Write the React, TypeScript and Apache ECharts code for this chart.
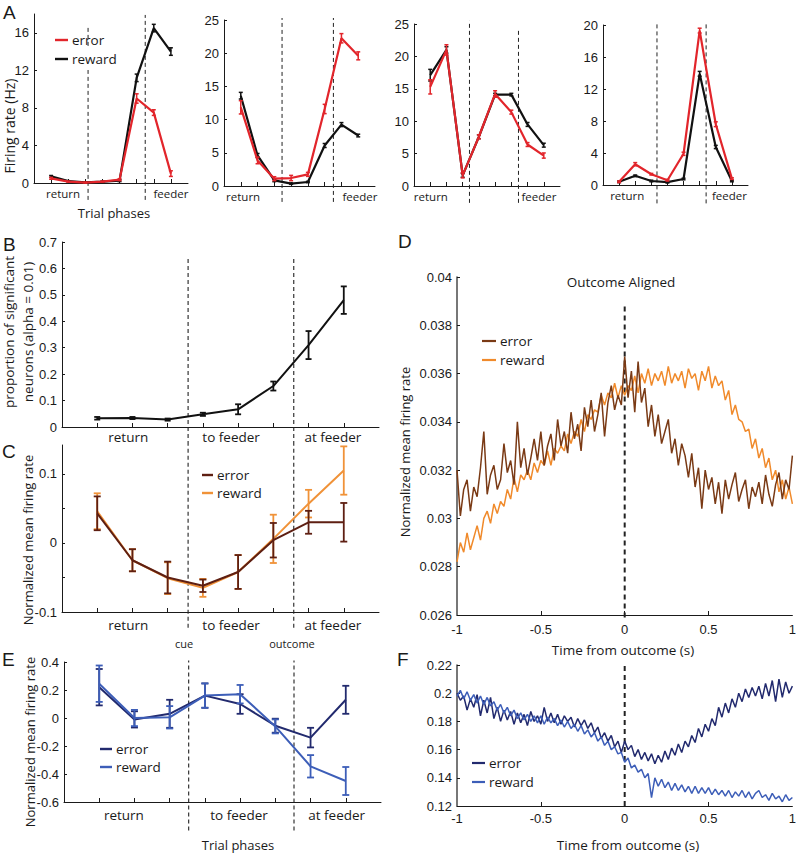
import React, { useEffect, useRef } from 'react';
import * as echarts from 'echarts';

// ======================= DATA =======================
// Trial-phase sample positions (8 bins) shared by panels A, B, C, E
const phasePositions = [0, 1, 2, 3, 4, 5, 6, 7];
const legendNames = ['error', 'reward'];
const aEndLabels = ['return', 'feeder'];
const phaseLabels = ['return', 'to feeder', 'at feeder'];
const eventLabels = ['cue', 'outcome'];

// Panel A — four example neurons (Hz)
const a1Error = [0.5, 0.15, 0.05, 0.15, 0.35, 9.0, 7.5, 1.0];
const a1Reward = [0.7, 0.2, 0.07, 0.15, 0.25, 11.2, 16.5, 14.0];
const a1ErrorSem = [0.1, 0.05, 0.05, 0.05, 0.1, 0.5, 0.3, 0.3];
const a1RewardSem = [0.1, 0.05, 0.05, 0.05, 0.1, 0.4, 0.4, 0.4];

const a2Error = [11.85, 3.85, 1.1, 1.2, 1.75, 11.6, 22.25, 19.6];
const a2Reward = [13.6, 4.6, 0.85, 0.35, 0.6, 6.1, 9.25, 7.6];
const a2ErrorSem = [1.0, 0.5, 0.3, 0.4, 0.3, 0.7, 0.7, 0.6];
const a2RewardSem = [0.5, 0.3, 0.2, 0.1, 0.1, 0.3, 0.3, 0.2];

const a3Error = [15.3, 21.0, 1.65, 7.6, 14.2, 11.4, 6.4, 4.7];
const a3Reward = [17.1, 21.0, 1.65, 7.6, 14.1, 14.1, 9.5, 6.3];
const a3ErrorSem = [1.1, 0.8, 0.4, 0.3, 0.5, 0.3, 0.3, 0.4];
const a3RewardSem = [0.9, 0.5, 0.3, 0.3, 0.2, 0.2, 0.3, 0.3];

const a4Error = [0.4, 2.6, 1.35, 0.6, 3.9, 19.3, 7.6, 0.8];
const a4Reward = [0.4, 1.15, 0.5, 0.35, 0.75, 13.9, 4.75, 0.5];
const a4ErrorSem = [0.1, 0.2, 0.1, 0.1, 0.2, 0.3, 0.3, 0.1];
const a4RewardSem = [0.1, 0.1, 0.1, 0.1, 0.1, 0.3, 0.2, 0.1];

// Panel B — proportion of significant neurons
const bValues = [0.033, 0.034, 0.028, 0.048, 0.067, 0.155, 0.31, 0.48];
const bSem = [0.005, 0.004, 0.004, 0.006, 0.019, 0.017, 0.053, 0.052];

// Panel C — normalized mean firing rate (population 1)
const cError = [0.043, -0.025, -0.05, -0.062, -0.042, 0.004, 0.03, 0.03];
const cErrorSem = [0.0245, 0.016, 0.023, 0.009, 0.0245, 0.025, 0.0166, 0.028];
const cReward = [0.046, -0.025, -0.051, -0.065, -0.042, 0.006, 0.057, 0.105];
const cRewardSem = [0.026, 0.016, 0.023, 0.013, 0.0245, 0.035, 0.02, 0.035];

// Panel E — normalized mean firing rate (population 2)
const eError = [0.22, -0.01, 0.03, 0.16, 0.1, -0.055, -0.14, 0.13];
const eErrorSem = [0.13, 0.058, 0.1, 0.087, 0.07, 0.05, 0.07, 0.1];
const eReward = [0.245, 0.0, 0.005, 0.16, 0.17, -0.06, -0.345, -0.45];
const eRewardSem = [0.13, 0.058, 0.08, 0.087, 0.066, 0.05, 0.08, 0.1];

// Panels D / F — outcome-aligned traces, sampled every 20 ms from -1 s to 1 s
const timeGrid = Array.from({ length: 101 }, (_, i) => Math.round((-1 + i * 0.02) * 100) / 100);

const dError = [
  0.0320, 0.0301, 0.0312, 0.0316, 0.0303, 0.0313, 0.0309, 0.0321, 0.0336, 0.0310,
  0.0318, 0.0322, 0.0312, 0.0316, 0.0331, 0.0319, 0.0324, 0.0314, 0.0340, 0.0321,
  0.0329, 0.0318, 0.0325, 0.0333, 0.0324, 0.0336, 0.0322, 0.0330, 0.0335, 0.0324,
  0.0341, 0.0330, 0.0336, 0.0327, 0.0344, 0.0333, 0.0339, 0.0328, 0.0346, 0.0338,
  0.0349, 0.0336, 0.0343, 0.0352, 0.0334, 0.0348, 0.0355, 0.0345, 0.0351, 0.0347,
  0.0367, 0.0350, 0.0361, 0.0344, 0.0365, 0.0348, 0.0354, 0.0338, 0.0347, 0.0334,
  0.0343, 0.0331, 0.0336, 0.0341, 0.0327, 0.0333, 0.0322, 0.0331, 0.0326, 0.0317,
  0.0327, 0.0313, 0.0321, 0.0304, 0.0320, 0.0312, 0.0317, 0.0306, 0.0315, 0.0302,
  0.0316, 0.0308, 0.0314, 0.0319, 0.0307, 0.0312, 0.0316, 0.0304, 0.0313, 0.0309,
  0.0315, 0.0306, 0.0318, 0.0310, 0.0305, 0.0314, 0.0319, 0.0308, 0.0316, 0.0312,
  0.0326,
];
const dReward = [
  0.0282, 0.0290, 0.0286, 0.0294, 0.0287, 0.0292, 0.0297, 0.0291, 0.0300, 0.0303,
  0.0298, 0.0306, 0.0302, 0.0307, 0.0305, 0.0312, 0.0308, 0.0317, 0.0311, 0.0318,
  0.0316, 0.0320, 0.0316, 0.0323, 0.0319, 0.0324, 0.0322, 0.0328, 0.0322, 0.0329,
  0.0327, 0.0330, 0.0328, 0.0335, 0.0331, 0.0336, 0.0334, 0.0341, 0.0336, 0.0343,
  0.0341, 0.0345, 0.0344, 0.0351, 0.0347, 0.0352, 0.0350, 0.0356, 0.0350, 0.0355,
  0.0351, 0.0355, 0.0353, 0.0359, 0.0352, 0.0360, 0.0356, 0.0362, 0.0355, 0.0360,
  0.0357, 0.0361, 0.0355, 0.0363, 0.0356, 0.0360, 0.0357, 0.0361, 0.0354, 0.0362,
  0.0358, 0.0360, 0.0353, 0.0361, 0.0357, 0.0363, 0.0354, 0.0359, 0.0355, 0.0357,
  0.0349, 0.0353, 0.0343, 0.0347, 0.0341, 0.0340, 0.0336, 0.0337, 0.0329, 0.0333,
  0.0325, 0.0329, 0.0321, 0.0325, 0.0316, 0.0320, 0.0311, 0.0316, 0.0308, 0.0313,
  0.0306,
];
const fError = [
  0.200, 0.195, 0.198, 0.188, 0.196, 0.190, 0.199, 0.184, 0.195, 0.186,
  0.197, 0.182, 0.190, 0.180, 0.188, 0.181, 0.187, 0.178, 0.186, 0.179,
  0.185, 0.177, 0.187, 0.180, 0.184, 0.178, 0.190, 0.180, 0.186, 0.179,
  0.185, 0.178, 0.184, 0.180, 0.183, 0.176, 0.182, 0.177, 0.181, 0.175,
  0.179, 0.172, 0.176, 0.168, 0.172, 0.166, 0.170, 0.162, 0.166, 0.158,
  0.166, 0.160, 0.163, 0.155, 0.160, 0.153, 0.158, 0.152, 0.157, 0.150,
  0.156, 0.151, 0.159, 0.153, 0.161, 0.156, 0.164, 0.158, 0.166, 0.162,
  0.170, 0.165, 0.175, 0.169, 0.178, 0.173, 0.182, 0.177, 0.190, 0.183,
  0.193, 0.186, 0.196, 0.190, 0.200, 0.194, 0.203, 0.197, 0.204, 0.198,
  0.205, 0.196, 0.207, 0.198, 0.209, 0.194, 0.210, 0.197, 0.208, 0.200,
  0.205,
];
const fReward = [
  0.198, 0.202, 0.196, 0.201, 0.195, 0.199, 0.193, 0.198, 0.192, 0.197,
  0.191, 0.194, 0.188, 0.192, 0.186, 0.190, 0.184, 0.188, 0.182, 0.186,
  0.181, 0.185, 0.180, 0.184, 0.179, 0.184, 0.178, 0.183, 0.179, 0.182,
  0.177, 0.181, 0.176, 0.180, 0.175, 0.178, 0.173, 0.177, 0.171, 0.174,
  0.169, 0.172, 0.166, 0.169, 0.163, 0.166, 0.160, 0.162, 0.157, 0.158,
  0.151, 0.154, 0.147, 0.149, 0.144, 0.146, 0.140, 0.143, 0.126, 0.140,
  0.134, 0.139, 0.133, 0.137, 0.131, 0.136, 0.131, 0.135, 0.130, 0.134,
  0.129, 0.134, 0.129, 0.133, 0.129, 0.133, 0.128, 0.132, 0.128, 0.131,
  0.127, 0.131, 0.126, 0.130, 0.127, 0.131, 0.126, 0.130, 0.125, 0.129,
  0.131, 0.126, 0.128, 0.124, 0.129, 0.125, 0.127, 0.123, 0.128, 0.124,
  0.126,
];

// Tick values
const aTicks4 = [0, 4, 8, 12, 16];
const aTicks5 = [0, 5, 10, 15, 20, 25];
const aTicks4to20 = [0, 4, 8, 12, 16, 20];
const bTicks = [0, 0.1, 0.2, 0.3, 0.4, 0.5, 0.6, 0.7];
const cTicks = [-0.1, -0.05, 0, 0.05, 0.1];
const cTickLabels = [-0.1, 0, 0.1];
const dTicks = [0.026, 0.028, 0.03, 0.032, 0.034, 0.036, 0.038, 0.04];
const eTicks = [-0.6, -0.4, -0.2, 0, 0.2, 0.4];
const fTicks = [0.12, 0.14, 0.16, 0.18, 0.2, 0.22];
const timeTicks = [-1, -0.5, 0, 0.5, 1];
const timeInnerTicks = [-0.5, 0, 0.5];

// ======================= STYLE / LAYOUT =======================
const NUM_FONT = '"Liberation Sans", Arial, sans-serif';
const WORD_FONT = '"Open Sans", "Noto Sans", sans-serif';
const INK = '#1a1a1a';
const RED = '#e2252b';
const BLACK = '#111111';
const BROWN_DARK = '#5e1f12';
const ORANGE = '#f09238';
const D_BROWN = '#7a3a15';
const D_ORANGE = '#f08a2b';
const NAVY = '#222a6e';
const BLUE = '#3d5eb8';

const near = (a: number, b: number) => Math.abs(a - b) < 1e-6;
const lookup = (vals: number[], labels: string[]) => (v: number) => {
  const i = vals.findIndex((p) => near(p, v));
  return i >= 0 ? labels[i] : '';
};

function xCatAxis(gi: number, labelPos: number[], labels: string[], margin: number, fontSize: number) {
  return {
    type: 'value', gridIndex: gi, min: -1, max: 8,
    axisLine: { show: true, onZero: false, lineStyle: { color: INK, width: 1 } },
    axisTick: { show: true, inside: true, length: 4, customValues: phasePositions, lineStyle: { color: INK } },
    axisLabel: {
      show: true, customValues: labelPos, formatter: lookup(labelPos, labels), margin,
      fontSize, fontFamily: WORD_FONT, color: INK,
    },
    splitLine: { show: false },
  };
}

function yNumAxis(gi: number, min: number, max: number, ticks: number[], labelVals: number[], fontSize = 13, lineColor = INK, lineWidth = 1) {
  return {
    type: 'value', gridIndex: gi, min, max,
    axisLine: { show: true, onZero: false, lineStyle: { color: lineColor, width: lineWidth } },
    axisTick: { show: true, inside: true, length: 3, customValues: ticks, lineStyle: { color: INK } },
    axisLabel: {
      show: true, customValues: labelVals, formatter: (v: number) => String(v), margin: 5,
      fontSize, fontFamily: NUM_FONT, color: INK,
    },
    splitLine: { show: false },
  };
}

function lineSeries(name: string, gi: number, xs: number[], ys: number[], color: string, width: number, z = 3) {
  return {
    type: 'line', name, xAxisIndex: gi, yAxisIndex: gi, data: xs.map((x, i) => [x, ys[i]]),
    symbol: 'none', silent: true, z, lineStyle: { color, width }, itemStyle: { color },
  };
}

function errorBars(gi: number, xs: number[], ys: number[], errs: number[], color: string, cap: number, width: number, z = 4) {
  return {
    type: 'custom', xAxisIndex: gi, yAxisIndex: gi, silent: true, z,
    data: xs.map((x, i) => [x, ys[i] - errs[i], ys[i] + errs[i]]),
    encode: { x: 0, y: [1, 2] },
    renderItem: (_p: any, api: any) => {
      const x = api.value(0), lo = api.value(1), hi = api.value(2);
      const p1 = api.coord([x, lo]);
      const p2 = api.coord([x, hi]);
      const style = { stroke: color, lineWidth: width };
      return {
        type: 'group',
        children: [
          { type: 'line', shape: { x1: p1[0], y1: p1[1], x2: p2[0], y2: p2[1] }, style },
          { type: 'line', shape: { x1: p1[0] - cap, y1: p1[1], x2: p1[0] + cap, y2: p1[1] }, style },
          { type: 'line', shape: { x1: p2[0] - cap, y1: p2[1], x2: p2[0] + cap, y2: p2[1] }, style },
        ],
      };
    },
  };
}

function divider(gi: number, x: number, y0: number, y1: number, width = 1.1, dash: any = [4, 3]) {
  return {
    type: 'line', xAxisIndex: gi, yAxisIndex: gi, data: [[x, y0], [x, y1]], symbol: 'none',
    clip: false, silent: true, z: 1, lineStyle: { color: '#222', width, type: dash },
  };
}

function text(x: number, y: number, t: string, size: number, family = WORD_FONT, rotate = false, align = 'center') {
  return {
    type: 'text', x, y, z: 100, rotation: rotate ? Math.PI / 2 : 0,
    style: { text: t, fontSize: size, fontFamily: family, fill: INK, textAlign: align, textVerticalAlign: 'middle' },
  };
}

function legend(x: number, y: number, dy: number, colors: string[], size: number, lineLen: number, lineW: number) {
  const out: any[] = [];
  legendNames.forEach((n, i) => {
    const yy = y + i * dy;
    out.push({ type: 'line', z: 100, shape: { x1: x, y1: yy, x2: x + lineLen, y2: yy }, style: { stroke: colors[i], lineWidth: lineW } });
    out.push(text(x + lineLen + 4, yy, n, size, WORD_FONT, false, 'left'));
  });
  return out;
}

const panelsA = [
  { grid: { left: 34, top: 14, width: 154, height: 169 }, yMax: 18, ticks: aTicks4,
    err: a1Error, rew: a1Reward, errSem: a1ErrorSem, rewSem: a1RewardSem,
    dividers: [[2.16, 16.8], [5.5, 17.9]], divBottom: -1.8, endPos: [0.7, 7.0] },
  { grid: { left: 224, top: 20, width: 151, height: 166 }, yMax: 25, ticks: aTicks5,
    err: a2Error, rew: a2Reward, errSem: a2ErrorSem, rewSem: a2RewardSem,
    dividers: [[2.46, 25.3], [5.52, 25.3]], divBottom: -2.4, endPos: [0.14, 7.1] },
  { grid: { left: 414, top: 24, width: 146, height: 162 }, yMax: 25, ticks: aTicks5,
    err: a3Error, rew: a3Reward, errSem: a3ErrorSem, rewSem: a3RewardSem,
    dividers: [[2.42, 25.5], [5.44, 24.2]], divBottom: -2.6, endPos: [0.04, 6.7] },
  { grid: { left: 603, top: 25, width: 145, height: 160 }, yMax: 20, ticks: aTicks4to20,
    err: a4Error, rew: a4Reward, errSem: a4ErrorSem, rewSem: a4RewardSem,
    dividers: [[2.35, 20.3], [5.4, 20.4]], divBottom: -2.3, endPos: [0.5, 6.85] },
];

function buildOption() {
  const grid: any[] = [];
  const xAxis: any[] = [];
  const yAxis: any[] = [];
  const series: any[] = [];
  const graphic: any[] = [];

  // ---------- Panel A ----------
  panelsA.forEach((p, gi) => {
    grid.push({ ...p.grid, containLabel: false });
    xAxis.push(xCatAxis(gi, p.endPos, aEndLabels, 4, 11.5));
    yAxis.push(yNumAxis(gi, 0, p.yMax, p.ticks, p.ticks, 13));
    p.dividers.forEach(([x, top]) => series.push(divider(gi, x, p.divBottom, top, 1)));
    series.push(lineSeries('reward', gi, phasePositions, p.rew, BLACK, 2.2));
    series.push(errorBars(gi, phasePositions, p.rew, p.rewSem, BLACK, 2, 1.5));
    series.push(lineSeries('error', gi, phasePositions, p.err, RED, 2.2, 5));
    series.push(errorBars(gi, phasePositions, p.err, p.errSem, RED, 2, 1.5, 6));
  });

  // ---------- Panel B ----------
  const GB = 4;
  const phasePosBC = [0.88, 3.8, 6.69];
  grid.push({ left: 62, top: 242, width: 317, height: 185 });
  xAxis.push(xCatAxis(GB, phasePosBC, phaseLabels, 3, 13.5));
  yAxis.push(yNumAxis(GB, 0, 0.7, bTicks, bTicks, 13));
  series.push(divider(GB, 2.58, -0.068, 0.64));
  series.push(divider(GB, 5.58, -0.068, 0.64));
  series.push(lineSeries('proportion', GB, phasePositions, bValues, BLACK, 2));
  series.push(errorBars(GB, phasePositions, bValues, bSem, BLACK, 3, 1.8));

  // ---------- Panel C ----------
  const GC = 5;
  grid.push({ left: 62, top: 445, width: 317, height: 167 });
  xAxis.push(xCatAxis(GC, phasePosBC, phaseLabels, 6, 13.5));
  yAxis.push(yNumAxis(GC, -0.1, 0.142, cTicks, cTickLabels, 13));
  series.push(divider(GC, 2.58, -0.123, 0.142));
  series.push(divider(GC, 5.58, -0.123, 0.142));
  series.push(lineSeries('reward', GC, phasePositions, cReward, ORANGE, 2));
  series.push(errorBars(GC, phasePositions, cReward, cRewardSem, ORANGE, 3.5, 1.8));
  series.push(lineSeries('error', GC, phasePositions, cError, BROWN_DARK, 2, 5));
  series.push(errorBars(GC, phasePositions, cError, cErrorSem, BROWN_DARK, 3.5, 1.8, 6));

  // ---------- Panel D ----------
  const GD = 6;
  grid.push({ left: 457, top: 277, width: 338, height: 338 });
  xAxis.push({
    type: 'value', gridIndex: GD, min: -1, max: 1,
    axisLine: { show: true, onZero: false, lineStyle: { color: INK, width: 1 } },
    axisTick: { show: true, inside: true, length: 4, customValues: timeInnerTicks, lineStyle: { color: INK } },
    axisLabel: { show: true, customValues: timeTicks, formatter: (v: number) => String(v), margin: 8, fontSize: 13, fontFamily: NUM_FONT, color: INK },
    splitLine: { show: false },
  });
  yAxis.push(yNumAxis(GD, 0.026, 0.04, dTicks, dTicks, 13, '#555', 1.6));
  series.push(divider(GD, 0, 0.0259, 0.0388, 2, [5, 4]));
  series.push(lineSeries('reward', GD, timeGrid, dReward, D_ORANGE, 1.5));
  series.push(lineSeries('error', GD, timeGrid, dError, D_BROWN, 1.5, 4));

  // ---------- Panel E ----------
  const GE = 7;
  grid.push({ left: 64, top: 662, width: 317, height: 140 });
  xAxis.push(xCatAxis(GE, [0.7, 3.97, 6.74], phaseLabels, 6, 13.5));
  yAxis.push(yNumAxis(GE, -0.6, 0.4, eTicks, eTicks, 13));
  series.push(divider(GE, 2.54, -0.804, 0.41));
  series.push(divider(GE, 5.53, -0.804, 0.41));
  series.push(lineSeries('error', GE, phasePositions, eError, NAVY, 2));
  series.push(errorBars(GE, phasePositions, eError, eErrorSem, NAVY, 3.5, 1.8));
  series.push(lineSeries('reward', GE, phasePositions, eReward, BLUE, 2, 5));
  series.push(errorBars(GE, phasePositions, eReward, eRewardSem, BLUE, 3.5, 1.8, 6));

  // ---------- Panel F ----------
  const GF = 8;
  grid.push({ left: 457, top: 665, width: 338, height: 141 });
  xAxis.push({
    type: 'value', gridIndex: GF, min: -1, max: 1,
    axisLine: { show: true, onZero: false, lineStyle: { color: INK, width: 1 } },
    axisTick: { show: true, inside: true, length: 4, customValues: timeInnerTicks, lineStyle: { color: INK } },
    axisLabel: { show: true, customValues: timeTicks, formatter: (v: number) => String(v), margin: 6, fontSize: 13, fontFamily: NUM_FONT, color: INK },
    splitLine: { show: false },
  });
  yAxis.push(yNumAxis(GF, 0.12, 0.22, fTicks, fTicks, 13, '#555', 1.6));
  series.push(divider(GF, 0, 0.12, 0.22, 2, [5, 4]));
  series.push(lineSeries('error', GF, timeGrid, fError, NAVY, 1.5));
  series.push(lineSeries('reward', GF, timeGrid, fReward, BLUE, 1.5, 4));

  // ---------- Texts ----------
  const L = 19;
  const letter = (x: number, y: number, t: string) => ({
    type: 'text', x, y, z: 100,
    style: { text: t, fontSize: L, fontFamily: NUM_FONT, fill: INK, textAlign: 'left', textVerticalAlign: 'top' },
  });
  graphic.push(letter(3, 3, 'A'), letter(3, 235, 'B'), letter(2, 442, 'C'), letter(398, 232, 'D'), letter(2, 650, 'E'), letter(397, 650, 'F'));

  graphic.push(text(9, 126, 'Firing rate (Hz)', 14, WORD_FONT, true));
  graphic.push(text(114, 213, 'Trial phases', 13));
  graphic.push(text(9, 332, 'proportion of significant', 13.5, WORD_FONT, true));
  graphic.push(text(28, 332, 'neurons (alpha = 0.01)', 13.5, WORD_FONT, true));
  graphic.push(text(28, 540, 'Normalized mean firing rate', 13, WORD_FONT, true));
  graphic.push(text(184, 643, eventLabels[0], 11));
  graphic.push(text(292, 643, eventLabels[1], 11));
  graphic.push(text(30, 742, 'Normalized mean firing rate', 13, WORD_FONT, true));
  graphic.push(text(238, 845, 'Trial phases', 13));
  graphic.push(text(621, 282, 'Outcome Aligned', 13.5));
  graphic.push(text(405, 452, 'Normalized mean firing rate', 13, WORD_FONT, true));
  graphic.push(text(623, 650, 'Time from outcome (s)', 13.5));
  graphic.push(text(628, 845, 'Time from outcome (s)', 13.5));

  // legends
  graphic.push({ type: 'rect', z: 90, shape: { x: 52, y: 48, width: 68, height: 22 }, style: { fill: '#fff' } });
  graphic.push(...legend(55, 40, 19, [RED, BLACK], 13.5, 13, 2.4));
  graphic.push(...legend(202, 475, 18, [BROWN_DARK, ORANGE], 13.5, 11, 2.4));
  graphic.push(...legend(482, 341, 19, [D_BROWN, D_ORANGE], 13.5, 14, 2.2));
  graphic.push(...legend(100, 749, 18, [NAVY, BLUE], 13.5, 12, 2.4));
  graphic.push(...legend(472, 763, 19, [NAVY, BLUE], 13.5, 13, 2.2));

  return {
    animation: false,
    backgroundColor: '#ffffff',
    grid, xAxis, yAxis, series, graphic,
  };
}

export default function App() {
  const ref = useRef<HTMLDivElement>(null);
  useEffect(() => {
    document.body.style.margin = '0';
    const chart = echarts.init(ref.current!, null, { renderer: 'svg' });
    chart.setOption(buildOption() as any);
    return () => chart.dispose();
  }, []);
  return <div ref={ref} style={{ width: 799, height: 853, background: '#fff' }} />;
}
